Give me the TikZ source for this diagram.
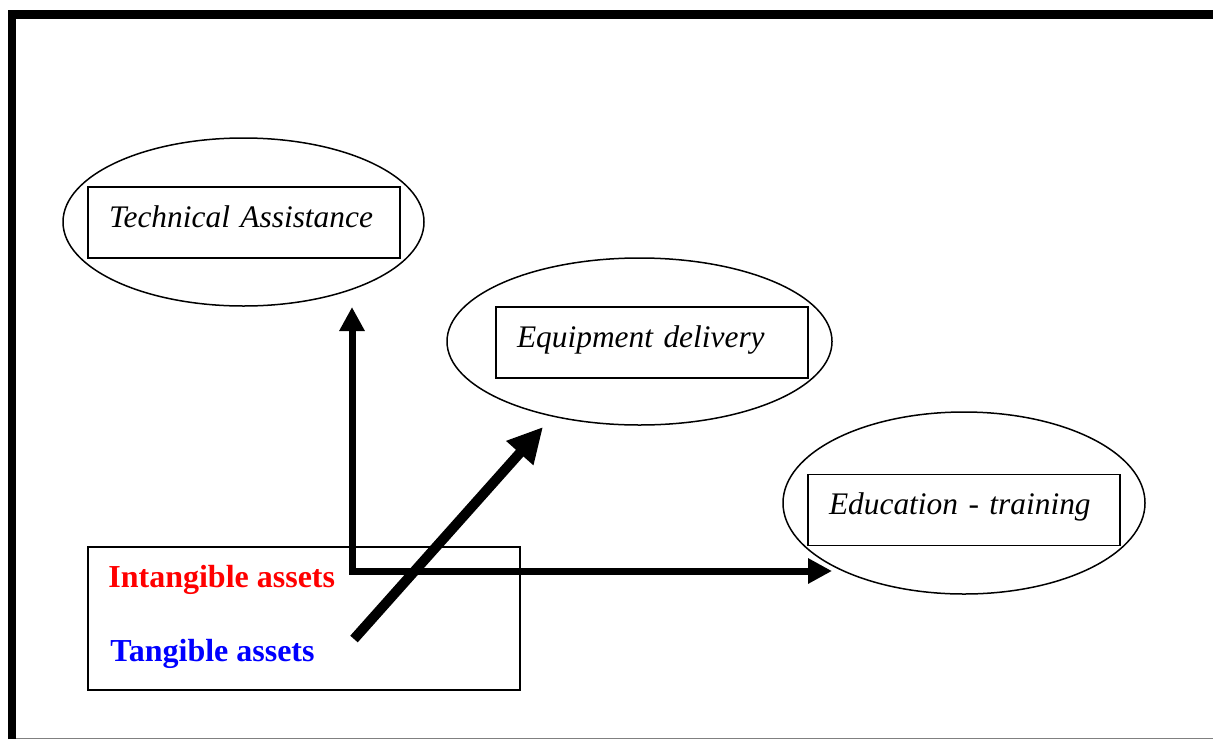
\documentclass[tikz,border=0pt]{standalone}
\usepackage{fontspec}
\setmainfont{Liberation Serif}
\usetikzlibrary{calc}
\usetikzlibrary{positioning}
\usetikzlibrary{shapes.geometric}
\usetikzlibrary{arrows.meta}

\tikzset{
  oval/.style = {draw, ellipse, line width=0.75pt, inner sep=0pt},
  itembox/.style = {draw, rectangle, line width=0.75pt, inner ysep=0pt, inner xsep=10.5pt,
    text width=135pt, align=left, text height=20pt, text depth=15.5pt,
    font=\fontsize{15.7}{19}\selectfont\itshape},
  assetlabel/.style = {anchor=base west, inner sep=0pt, font=\fontsize{16}{19}\selectfont\bfseries}
}

\begin{document}
\begin{tikzpicture}[x=0.5pt, y=-0.5pt]
      \useasboundingbox (0, 0) rectangle (1213, 739);

      \draw[line width=4.25pt, line join=miter] (12, 739) -- (12, 14.5) -- (1213, 14.5);
      \draw[gray, line width=0.5pt] (16, 738) -- (1213, 738);

      \node[oval, minimum width=180.5pt, minimum height=84pt] (techEll) at (243.5, 222) {};
      \node[oval, minimum width=192.5pt, minimum height=83.5pt] (equipEll) at (639.5, 341.5) {};
      \node[oval, minimum width=181pt, minimum height=91pt] (eduEll) at (964, 503) {};

      \node[itembox] (techBox) at (244, 222.5) {Technical Assistance};
      \node[itembox] (equipBox) at (652, 342.5) {Equipment delivery};
      \node[itembox] (eduBox) at (964, 510) {Education - training};

      \node[draw, rectangle, line width=0.75pt, minimum width=216pt, minimum height=71.5pt] (assetBox) at (304, 618.5) {};
      \node[assetlabel, text=red] (intangible) at (108, 587) {Intangible assets};
      \node[assetlabel, text=blue] (tangible) at (110, 661) {Tangible assets};

      \coordinate (corner) at (352, 571);
      \coordinate (techTip) at (352, 307);
      \coordinate (eduTip) at (832, 571);
      \coordinate (diagStart) at (354, 639);
      \coordinate (equipTip) at (543, 427);

      \draw[line width=3.5pt, line join=miter, {Triangle[length=12pt, width=12pt]}-{Triangle[length=12pt, width=12pt]}]
        (techTip) -- (corner) -- (eduTip);
      \draw[line width=5pt, -{Triangle[length=17.5pt, width=17pt]}] (diagStart) -- (equipTip);
    \end{tikzpicture}
\end{document}
